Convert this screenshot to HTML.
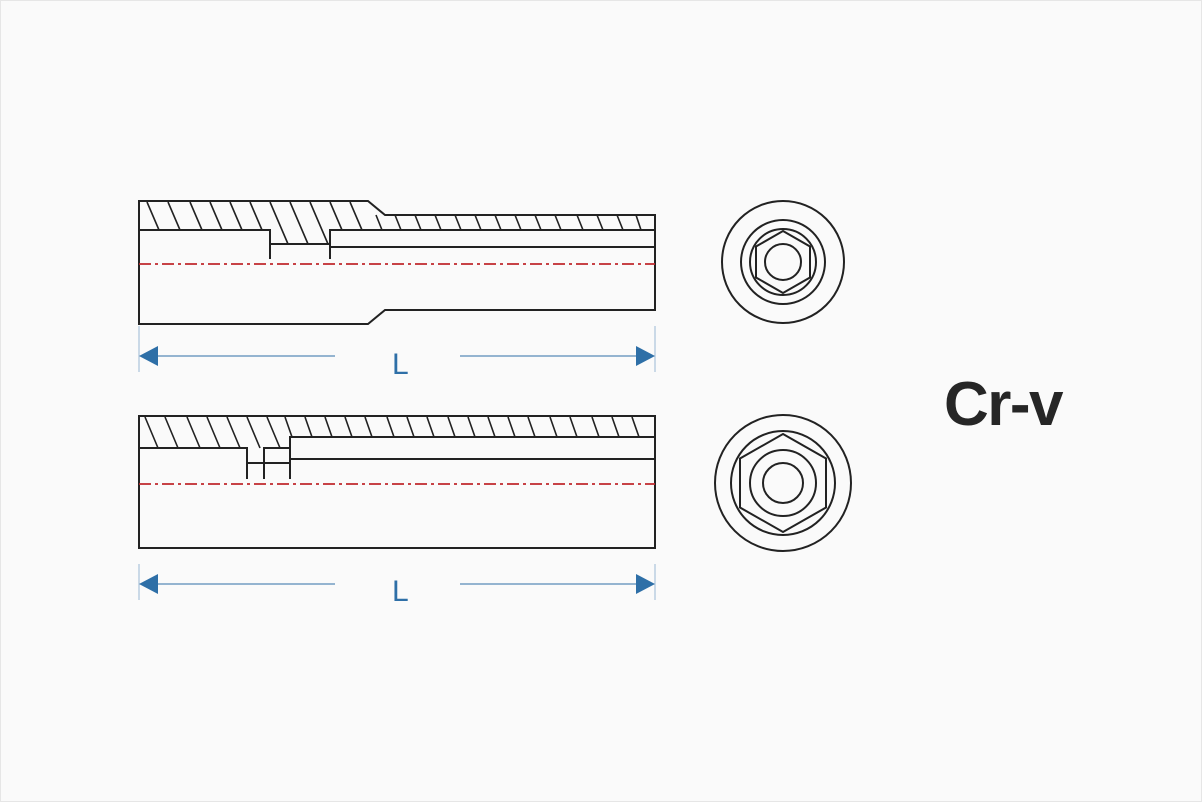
<!DOCTYPE html>
<html><head><meta charset="utf-8"><style>
html,body{margin:0;padding:0;background:#fafafa;}
svg{display:block;}
</style></head><body>
<svg width="1202" height="802" viewBox="0 0 1202 802" xmlns="http://www.w3.org/2000/svg">
<rect x="0.5" y="0.5" width="1201" height="801" fill="#fafafa" stroke="#e6e6e6"/>
<g fill="none" stroke="#222" stroke-width="2">
<!-- top socket -->
<path d="M139,201 H368 L385,215 H655 V310 H385 L368,324 H139 Z"/>
<path d="M139,230 H270 V259 M270,244 H330 M330,259 V230 H655 M330,247 H655"/>
<g stroke-width="1.6">
<path d="M147,202 l12,28 M168,202 l12,28 M190,202 l12,28 M210,202 l12,28 M230,202 l12,28 M250,202 l12,28"/>
<path d="M270,202 l18,42 M290,202 l18,42 M310,202 l18,42"/>
<path d="M330,202 l12,28 M350,202 l12,28"/>
<path d="M376,215 l6,15 M395,215 l6,15 M415,215 l6,15 M435,215 l6,15 M455,215 l6,15 M475,215 l6,15 M495,215 l6,15 M515,215 l6,15 M535,215 l6,15 M555,215 l6,15 M577,215 l6,15 M597,215 l6,15 M617,215 l6,15 M636,215 l5,15"/>
</g>
<!-- bottom socket -->
<rect x="139" y="416" width="516" height="132"/>
<path d="M139,448 H247 V479 M247,463 H290 M264,479 V448 H290 M290,479 V437 H655 M290,459 H655"/>
<g stroke-width="1.6">
<path d="M145,417 l13,31 M165,417 l13,31 M187,417 l13,31 M207,417 l13,31 M227,417 l13,31 M247,417 l13,31 M267,417 l13,31"/>
<path d="M285,417 l7,20 M305,417 l7,20 M325,417 l7,20 M345,417 l7,20 M365,417 l7,20 M387,417 l7,20 M407,417 l7,20 M427,417 l7,20 M448,417 l7,20 M468,417 l7,20 M488,417 l7,20 M508,417 l7,20 M528,417 l7,20 M550,417 l7,20 M570,417 l7,20 M592,417 l7,20 M612,417 l7,20 M632,417 l7,20"/>
</g>
<!-- end views -->
<circle cx="783" cy="262" r="61"/>
<circle cx="783" cy="262" r="42"/>
<circle cx="783" cy="262" r="33"/>
<polygon points="783,231 810,246.5 810,277.5 783,293 756,277.5 756,246.5"/>
<circle cx="783" cy="262" r="18"/>
<circle cx="783" cy="483" r="68"/>
<circle cx="783" cy="483" r="52"/>
<polygon points="783,434 826,458.5 826,507.5 783,532 740,507.5 740,458.5"/>
<circle cx="783" cy="483" r="33"/>
<circle cx="783" cy="483" r="20"/>
</g>
<!-- center lines -->
<g stroke="#c0282d" stroke-width="1.8" stroke-dasharray="12,4,3,4">
<line x1="139" y1="264" x2="655" y2="264"/>
<line x1="139" y1="484" x2="655" y2="484"/>
</g>
<!-- dimensions -->
<g stroke="#2e6fa7" stroke-width="1" fill="#2e6fa7">
<line x1="139" y1="326" x2="139" y2="372" stroke="#9ab8d4"/>
<line x1="655" y1="326" x2="655" y2="372" stroke="#9ab8d4"/>
<line x1="155" y1="356" x2="335" y2="356"/>
<line x1="460" y1="356" x2="640" y2="356"/>
<polygon points="139,356 158,346 158,366" stroke="none"/>
<polygon points="655,356 636,346 636,366" stroke="none"/>
<line x1="139" y1="564" x2="139" y2="600" stroke="#9ab8d4"/>
<line x1="655" y1="564" x2="655" y2="600" stroke="#9ab8d4"/>
<line x1="155" y1="584" x2="335" y2="584"/>
<line x1="460" y1="584" x2="640" y2="584"/>
<polygon points="139,584 158,574 158,594" stroke="none"/>
<polygon points="655,584 636,574 636,594" stroke="none"/>
</g>
<g fill="#2e6fa7" font-family="Liberation Sans, sans-serif" font-size="30">
<text x="392" y="374">L</text>
<text x="392" y="601">L</text>
</g>
<text x="944" y="425" font-family="Liberation Sans, sans-serif" font-weight="bold" font-size="62" letter-spacing="-1.5" fill="#262626">Cr-v</text>
</svg>
</body></html>
